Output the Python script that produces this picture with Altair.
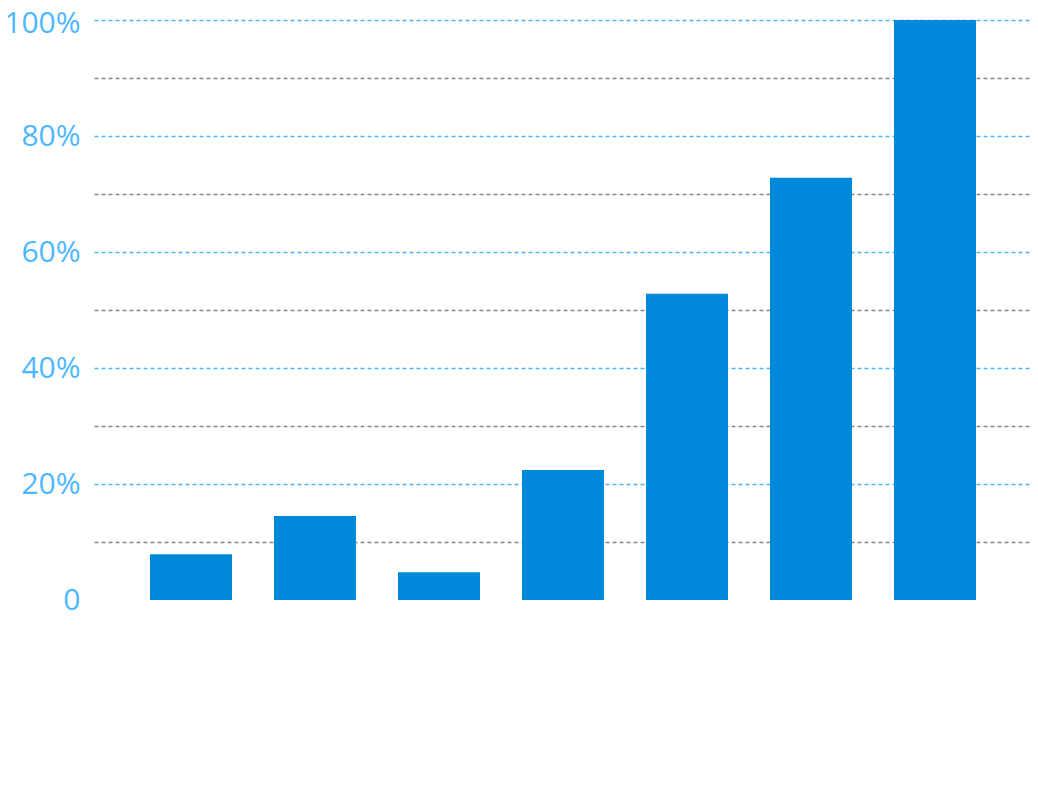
import altair as alt
import pandas as pd

categories = ["A", "B", "C", "D", "E", "F", "G"]
values = [0.079, 0.145, 0.048, 0.224, 0.528, 0.728, 1.0]
tick_values = [0, 0.1, 0.2, 0.3, 0.4, 0.5, 0.6, 0.7, 0.8, 0.9, 1.0]

df = pd.DataFrame({"category": categories, "value": values})

BLUE_LABEL = "#4DB8FF"
BAR = "#0088DB"
GRAY = "#888888"

odd = "round(datum.value * 10) % 2 == 1"

chart = (
    alt.Chart(df)
    .mark_bar(color=BAR)
    .encode(
        x=alt.X(
            "category:N",
            sort=categories,
            axis=None,
            scale=alt.Scale(paddingInner=0.3387, paddingOuter=0.4435, align=0.509),
        ),
        y=alt.Y(
            "value:Q",
            scale=alt.Scale(domain=[0, 1], nice=False),
            axis=alt.Axis(
                values=tick_values,
                labelExpr=(
                    "datum.value == 0 ? '0' : (" + odd + " ? '' : format(datum.value, '.0%'))"
                ),
                ticks=False,
                domain=False,
                title=None,
                grid=True,
                gridColor={"condition": {"test": odd, "value": GRAY}, "value": BLUE_LABEL},
                gridOpacity={"condition": {"test": "datum.value == 0", "value": 0}, "value": 1},
                gridDash=[4, 3],
                gridWidth=1.5,
                labelColor=BLUE_LABEL,
                labelFont="Open Sans",
                labelFontSize=30,
                labelPadding=14,
                labelBaseline="middle",
                labelAlign="right",
                labelOffset={"condition": {"test": "datum.value == 1", "value": 3}, "value": 0},
                labelOverlap=False,
                labelBound=False,
                labelFlush=False,
            ),
        ),
    )
    .properties(
        width=936,
        height=580,
        autosize=alt.AutoSizeParams(type="none"),
        padding={"left": 86, "top": 12, "right": 0, "bottom": 20},
    )
    .configure_view(stroke=None)
)

chart.save("out.html", embed_options={"renderer": "svg", "actions": False})
